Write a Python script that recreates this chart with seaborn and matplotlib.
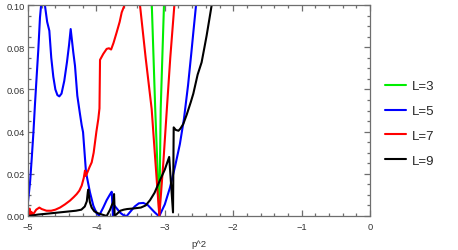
import pandas as pd
import matplotlib
matplotlib.use('Agg')
import matplotlib.pyplot as plt
import seaborn as sns

# values
x_l3 = [-3.26, -3.19, -3.14, -3.08, -3.06, -3.012, -2.98]
y_l3 = [0.14, 0.1, 0.0507, 0.0, 0.0507, 0.1, 0.125]

x_l5 = [-5.0, -4.97, -4.946, -4.92, -4.898, -4.87, -4.849, -4.825, -4.80, -4.77,
        -4.745, -4.72, -4.688, -4.66, -4.63, -4.60, -4.57, -4.542, -4.51, -4.47,
        -4.43, -4.40, -4.376, -4.338, -4.313, -4.279, -4.24, -4.215, -4.195, -4.152,
        -4.094, -4.045, -3.996, -3.96, -3.90, -3.85, -3.80, -3.776, -3.758, -3.752,
        -3.70, -3.65, -3.60, -3.557, -3.50, -3.44, -3.38, -3.314, -3.25, -3.20,
        -3.15, -3.10, -3.08, -3.0, -2.924, -2.85, -2.78, -2.72, -2.66, -2.613,
        -2.58, -2.544, -2.52]
y_l5 = [0.0066, 0.016, 0.027, 0.040, 0.053, 0.068, 0.079, 0.094, 0.103, 0.104,
        0.098, 0.092, 0.0878, 0.075, 0.066, 0.060, 0.0573, 0.0567, 0.058, 0.064,
        0.073, 0.081, 0.0886, 0.0776, 0.0712, 0.057, 0.0483, 0.0430, 0.0397, 0.0207,
        0.0112, 0.0049, 0.0012, 0.0002, 0.004, 0.0075, 0.0103, 0.0115, 0.0, 0.0055,
        0.0035, 0.0015, 0.0003, 0.0, 0.0022, 0.0045, 0.006, 0.0062, 0.0052, 0.0035,
        0.0018, 0.0003, 0.0, 0.0055, 0.0135, 0.0235, 0.034, 0.046, 0.062, 0.077,
        0.088, 0.0997, 0.108]

x_l7 = [-5.0, -4.985, -4.975, -4.965, -4.95, -4.935, -4.91, -4.88, -4.834, -4.80,
        -4.73, -4.66, -4.60, -4.532, -4.46, -4.386, -4.33, -4.288, -4.25, -4.215,
        -4.185, -4.167, -4.155, -4.14, -4.10, -4.069, -4.04, -4.02, -4.0, -3.972,
        -3.955, -3.947, -3.90, -3.85, -3.816, -3.785, -3.75, -3.704, -3.66, -3.63,
        -3.60, -3.58, -3.50, -3.45, -3.363, -3.28, -3.192, -3.14, -3.08, -3.02,
        -2.97, -2.92, -2.86, -2.83]
y_l7 = [0.0015, 0.003, 0.0035, 0.0005, 0.002, 0.0008, 0.0015, 0.003, 0.004, 0.0033,
        0.0025, 0.0025, 0.003, 0.004, 0.0055, 0.0073, 0.009, 0.0104, 0.012, 0.0144,
        0.018, 0.0215, 0.019, 0.020, 0.0232, 0.0254, 0.030, 0.035, 0.040, 0.046,
        0.051, 0.074, 0.0768, 0.0792, 0.0795, 0.0789, 0.082, 0.087, 0.092, 0.0965,
        0.099, 0.101, 0.13, 0.13, 0.1, 0.075, 0.0507, 0.027, 0.0, 0.026,
        0.0507, 0.075, 0.1, 0.112]

x_l9 = [-5.0, -4.93, -4.85, -4.75, -4.6, -4.45, -4.30, -4.22, -4.17, -4.14,
        -4.125, -4.118, -4.11, -4.095, -4.07, -4.03, -3.97, -3.90, -3.85, -3.80,
        -3.776, -3.755, -3.742, -3.736, -3.735, -3.70, -3.65, -3.60, -3.55, -3.45,
        -3.35, -3.28, -3.216, -3.15, -3.07, -3.00, -2.936, -2.88, -2.87, -2.84,
        -2.80, -2.77, -2.73, -2.68, -2.62, -2.583, -2.52, -2.462, -2.42, -2.389,
        -2.35, -2.316, -2.29]
y_l9 = [0.0, 0.0003, 0.0007, 0.001, 0.0015, 0.002, 0.0025, 0.003, 0.0045, 0.007,
        0.0115, 0.0125, 0.010, 0.0065, 0.004, 0.0022, 0.0012, 0.0005, 0.0, 0.003,
        0.005, 0.0065, 0.0104, 0.005, 0.0, 0.001, 0.0025, 0.003, 0.0033, 0.0036,
        0.004, 0.005, 0.0075, 0.011, 0.017, 0.022, 0.028, 0.0017, 0.042, 0.0408,
        0.0404, 0.0415, 0.0436, 0.048, 0.054, 0.058, 0.067, 0.0728, 0.080, 0.0854,
        0.093, 0.0997, 0.106]

labels = ['L=3', 'L=5', 'L=7', 'L=9']
colors = ['#00ee00', '#0000ff', '#ff0000', '#000000']

frames = []
for lab, xs, ys in zip(labels, [x_l3, x_l5, x_l7, x_l9], [y_l3, y_l5, y_l7, y_l9]):
    frames.append(pd.DataFrame({'p2': xs, 'val': ys, 'L': lab}))
df = pd.concat(frames, ignore_index=True)

frame_col = '#6e6e6e'
sns.set_style('white')
plt.rcParams['font.family'] = ['Liberation Sans', 'DejaVu Sans']

fig = plt.figure(figsize=(4.58, 2.51), dpi=100)
ax = fig.add_axes([28 / 458, 1 - 217 / 251, (370 - 28) / 458, (217 - 6) / 251])

sns.lineplot(data=df, x='p2', y='val', hue='L', palette=dict(zip(labels, colors)),
             estimator=None, sort=False, linewidth=1.5, ax=ax, legend=True)

ax.set_xlim(-5, 0)
ax.set_ylim(0, 0.1)
ax.set_xticks([-5, -4, -3, -2, -1, 0])
ax.set_xticklabels(['\u22125', '\u22124', '\u22123', '\u22122', '\u22121', '0'])
ax.set_yticks([0, 0.02, 0.04, 0.06, 0.08, 0.1])
ax.set_yticklabels(['0.00', '0.02', '0.04', '0.06', '0.08', '0.10'])
ax.set_xticks([-5 + 0.2 * i for i in range(26)], minor=True)
ax.set_yticks([0.005 * i for i in range(21)], minor=True)

for s in ax.spines.values():
    s.set_color(frame_col)
    s.set_linewidth(0.9)
ax.tick_params(which='both', direction='in', bottom=True, left=True, top=True, right=True,
               color=frame_col, labelsize=6.7, labelcolor='#333333', width=0.9)
ax.tick_params(which='major', length=4.5)
ax.tick_params(which='minor', length=2.5)
ax.tick_params(axis='x', pad=4)
ax.tick_params(axis='y', pad=2.5)

ax.set_xlabel('p^2', fontsize=6.8, color='#333333', labelpad=6)
ax.set_ylabel('')

handles, labs = ax.get_legend_handles_labels()
leg = ax.legend(handles, labs, loc='center left', bbox_to_anchor=(385 / 458, 1 - 124.5 / 251),
                bbox_transform=fig.transFigure, frameon=False, fontsize=9.5,
                handlelength=1.6, handletextpad=0.45, labelspacing=0.95,
                borderpad=0, borderaxespad=0)
for line in leg.get_lines():
    line.set_linewidth(1.5)

fig.savefig('out.png', dpi=100)
